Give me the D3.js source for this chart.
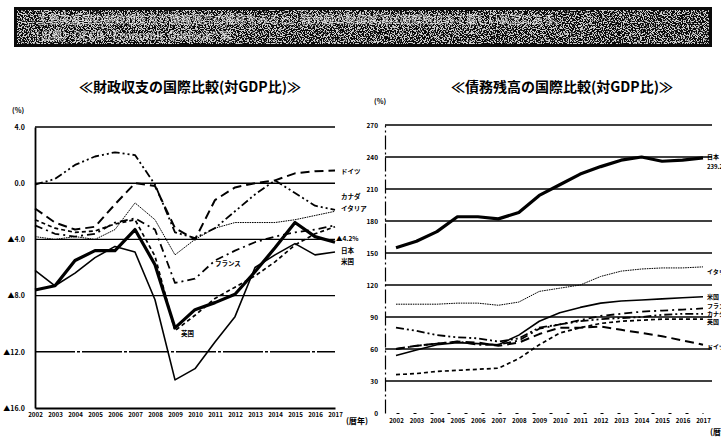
<!DOCTYPE html>
<html>
<head>
<meta charset="utf-8">
<script src="https://cdn.jsdelivr.net/npm/d3@7"></script>
<style>
  body { margin: 0; background: #fff; }
  svg { display: block; }
  text { font-family: "Noto Sans CJK JP", "Noto Sans", sans-serif; }
</style>
</head>
<body>
<svg id="chart" width="721" height="439"></svg>
<script>
// ---- categories ----
const years = [2002, 2003, 2004, 2005, 2006, 2007, 2008, 2009, 2010, 2011, 2012, 2013, 2014, 2015, 2016, 2017];

// ---- fiscal balance, % of GDP ----
const balanceJapan   = [-7.6, -7.3, -5.5, -4.8, -4.8, -3.3, -5.8, -10.3, -9.0, -8.5, -7.9, -6.3, -4.6, -2.8, -3.8, -4.2];
const balanceUS      = [-6.2, -7.3, -6.4, -5.3, -4.5, -4.9, -8.3, -14.0, -13.2, -11.3, -9.5, -6.0, -5.1, -4.3, -5.1, -4.9];
const balanceUK      = [-2.6, -3.2, -3.5, -3.4, -2.9, -2.6, -5.2, -10.5, -9.4, -8.2, -7.4, -6.6, -5.6, -4.4, -3.6, -3.1];
const balanceGermany = [-1.8, -2.8, -3.3, -3.1, -1.5, 0.0, -0.2, -3.2, -4.0, -1.2, -0.3, 0.0, 0.2, 0.7, 0.85, 0.9];
const balanceFrance  = [-3.0, -3.6, -3.8, -3.6, -2.8, -2.5, -3.3, -7.1, -6.8, -5.5, -4.8, -4.2, -3.8, -3.5, -3.3, -3.0];
const balanceItaly   = [-3.8, -4.0, -3.8, -4.0, -3.3, -1.4, -2.6, -5.1, -4.0, -3.2, -2.8, -2.8, -2.8, -2.6, -2.3, -2.0];
const balanceCanada  = [-0.1, 0.3, 1.3, 1.9, 2.2, 2.0, -0.1, -3.5, -3.9, -3.2, -2.0, -0.8, 0.2, -0.7, -1.6, -1.9];
const balanceTicks      = [4, 0, -4, -8, -12, -16];
const balanceTickLabels = ["4.0", "0.0", "▲4.0", "▲8.0", "▲12.0", "▲16.0"];

// ---- general government debt, % of GDP ----
const debtJapan   = [155, 161, 170, 184, 184, 182, 188, 204, 214, 224, 231, 237, 240, 236, 237, 239.2];
const debtItaly   = [102, 102, 102, 103, 103, 101, 104, 114, 117, 120, 128, 133, 135, 136, 136, 137];
const debtUS      = [54, 59, 64, 66, 65, 64, 73, 86, 94, 99, 103, 105, 106, 107, 108, 109];
const debtFrance  = [60, 63, 65, 67, 64, 64, 68, 79, 83, 87, 91, 93, 95, 96, 97, 98];
const debtCanada  = [80, 77, 73, 71, 70, 67, 70, 80, 83, 86, 88, 89, 90, 92, 93, 93];
const debtUK      = [36, 37, 39, 40, 41, 42, 51, 64, 75, 80, 84, 86, 87, 88, 88, 88];
const debtGermany = [60, 63, 65, 67, 66, 63, 66, 74, 80, 80, 81, 78, 75, 72, 68, 64];
const debtTicks = [0, 30, 60, 90, 120, 150, 180, 210, 240, 270];

const svg = d3.select("#chart");

// ---- heading bar (dark band with a speckled print texture) ----
const defs = svg.append("defs");
const speckle = defs.append("filter").attr("id", "speckle")
  .attr("x", 0).attr("y", 0).attr("width", 1).attr("height", 1);
speckle.append("feTurbulence").attr("type", "fractalNoise")
  .attr("baseFrequency", 0.85).attr("numOctaves", 2).attr("seed", 7).attr("result", "n");
speckle.append("feColorMatrix").attr("in", "n").attr("type", "matrix")
  .attr("values", "0 0 0 0 1  0 0 0 0 1  0 0 0 0 1  -14 0 0 0 7.2");
svg.append("rect").attr("x", 14).attr("y", 7).attr("width", 698).attr("height", 40)
  .attr("fill", "#0a0a0a");
svg.append("rect").attr("x", 17).attr("y", 10).attr("width", 692).attr("height", 34)
  .attr("fill", "#fff").attr("filter", "url(#speckle)").attr("opacity", 0.8);
svg.append("text").attr("x", 24).attr("y", 24).attr("fill", "#eee")
  .attr("font-size", 11).attr("font-weight", 700).attr("opacity", 0.6)
  .text("○ 主要先進国の財政収支及び債務残高の推移をみると、我が国の財政状況は国際的にみて厳しい状況にある。");
svg.append("text").attr("x", 24).attr("y", 40).attr("fill", "#eee")
  .attr("font-size", 11).attr("font-weight", 700).attr("opacity", 0.6)
  .text("　（出典）OECD \"Economic Outlook\" 等");

// ---- shared line styles ----
const styles = {
  japan:   { w: 3.2, dash: null },
  us:      { w: 1.6, dash: null },
  uk:      { w: 1.7, dash: "4,3" },
  germany: { w: 2.0, dash: "9,5" },
  france:  { w: 1.8, dash: "8,4,2,4" },
  italy:   { w: 1.0, dash: "1.6,0.8" },
  canada:  { w: 1.8, dash: "8,3,2,3,2,3" }
};

function drawLines(g, x, y, list) {
  const line = d3.line().x((d, i) => x(years[i])).y(d => y(d)).curve(d3.curveLinear);
  g.selectAll("path.series").data(list).join("path")
    .attr("class", "series")
    .attr("d", d => line(d.values))
    .attr("fill", "none")
    .attr("stroke", "#000")
    .attr("stroke-width", d => styles[d.key].w)
    .attr("stroke-dasharray", d => styles[d.key].dash)
    .attr("stroke-linejoin", "round")
    .attr("stroke-linecap", "butt");
}

function smallLabel(g, x, y, t, size) {
  g.append("text").attr("x", x).attr("y", y).attr("font-size", size || 7)
    .attr("font-weight", 700).attr("dominant-baseline", "middle").text(t);
}

// ================= left: fiscal balance =================
const xL = d3.scalePoint().domain(years).range([35, 335]);
const yL = d3.scaleLinear().domain([-16, 4]).range([408, 127]);
const gL = svg.append("g");

gL.append("text").attr("x", 190).attr("y", 92).attr("text-anchor", "middle")
  .attr("font-size", 14).attr("font-weight", 700).text("≪財政収支の国際比較(対GDP比)≫");
gL.append("text").attr("x", 12).attr("y", 113).attr("font-size", 7).attr("font-weight", 700).text("(%)");

// gridlines
gL.selectAll("line.grid").data(balanceTicks.filter(t => t > -16)).join("line")
  .attr("class", "grid")
  .attr("x1", 35).attr("x2", 335)
  .attr("y1", d => yL(d)).attr("y2", d => yL(d))
  .attr("stroke", "#000").attr("stroke-width", 1.4)
  .attr("stroke-dasharray", d => d === -12 ? "40,2,3,2" : null);

// axes
const axL = d3.axisLeft(yL).tickValues(balanceTicks).tickSize(0).tickPadding(10)
  .tickFormat((d, i) => balanceTickLabels[i]);
const gAxL = gL.append("g").attr("transform", "translate(35,0)").call(axL);
gAxL.select(".domain").attr("stroke-width", 1.8);
gAxL.selectAll("text").attr("font-size", 7).attr("font-weight", 700)
  .attr("font-family", "'Liberation Sans', sans-serif");

const axLB = d3.axisBottom(xL).tickSize(0).tickPadding(5);
const gAxLB = gL.append("g").attr("transform", "translate(0,408)").call(axLB);
gAxLB.select(".domain").attr("stroke-width", 1.8);
gAxLB.selectAll("text").attr("font-size", 6.2).attr("font-weight", 700)
  .attr("font-family", "'Liberation Sans', sans-serif");

drawLines(gL, xL, yL, [
  { key: "italy",   values: balanceItaly },
  { key: "canada",  values: balanceCanada },
  { key: "germany", values: balanceGermany },
  { key: "france",  values: balanceFrance },
  { key: "uk",      values: balanceUK },
  { key: "us",      values: balanceUS },
  { key: "japan",   values: balanceJapan }
]);

smallLabel(gL, 341, 172, "ドイツ", 6.5);
smallLabel(gL, 341, 197, "カナダ", 6.5);
smallLabel(gL, 341, 209, "イタリア", 6.5);
smallLabel(gL, 336, 239, "▲4.2%", 6.5);
smallLabel(gL, 341, 251, "日本", 6.5);
smallLabel(gL, 341, 262, "米国", 6.5);
smallLabel(gL, 215, 264, "フランス", 6.5);
smallLabel(gL, 181, 334, "英国", 6.5);
gL.append("text").attr("x", 346).attr("y", 424).attr("font-size", 8).attr("font-weight", 700)
  .text("(暦年)");

// ================= right: government debt =================
const xR = d3.scalePoint().domain(years).range([396, 703]);
const yR = d3.scaleLinear().domain([0, 270]).range([413, 125]);
const gR = svg.append("g");

gR.append("text").attr("x", 562).attr("y", 92).attr("text-anchor", "middle")
  .attr("font-size", 14).attr("font-weight", 700).text("≪債務残高の国際比較(対GDP比)≫");
gR.append("text").attr("x", 374).attr("y", 104).attr("font-size", 7).attr("font-weight", 700).text("(%)");

gR.selectAll("line.grid").data(debtTicks.filter(t => t > 0)).join("line")
  .attr("class", "grid")
  .attr("x1", 385).attr("x2", 712)
  .attr("y1", d => yR(d)).attr("y2", d => yR(d))
  .attr("stroke", "#000").attr("stroke-width", 1.5);

const axR = d3.axisLeft(yR).tickValues(debtTicks).tickSize(0).tickPadding(7);
const gAxR = gR.append("g").attr("transform", "translate(385,0)").call(axR);
gAxR.select(".domain").attr("stroke-width", 1.2).attr("stroke-dasharray", "14,3,2,3");
gAxR.selectAll("text").attr("font-size", 6.5).attr("font-weight", 700)
  .attr("font-family", "'Liberation Sans', sans-serif");

const axRB = d3.axisBottom(xR).tickSize(0).tickPadding(6);
const gAxRB = gR.append("g").attr("transform", "translate(0,413)").call(axRB);
gAxRB.select(".domain").attr("stroke-width", 1.2).attr("stroke-dasharray", "3,14");
gAxRB.selectAll("text").attr("font-size", 6.2).attr("font-weight", 700)
  .attr("font-family", "'Liberation Sans', sans-serif");

drawLines(gR, xR, yR, [
  { key: "italy",   values: debtItaly },
  { key: "uk",      values: debtUK },
  { key: "germany", values: debtGermany },
  { key: "canada",  values: debtCanada },
  { key: "france",  values: debtFrance },
  { key: "us",      values: debtUS },
  { key: "japan",   values: debtJapan }
]);

smallLabel(gR, 707, 157, "日本", 6);
smallLabel(gR, 707, 167, "239.2", 6);
smallLabel(gR, 707, 272, "イタリア", 6);
smallLabel(gR, 707, 297, "米国", 6);
smallLabel(gR, 707, 306, "フランス", 6);
smallLabel(gR, 707, 314, "カナダ", 6);
smallLabel(gR, 707, 322, "英国", 6);
smallLabel(gR, 707, 347, "ドイツ", 6);
gR.append("text").attr("x", 710).attr("y", 435).attr("font-size", 8).attr("font-weight", 700)
  .text("(暦年)");
</script>
</body>
</html>
